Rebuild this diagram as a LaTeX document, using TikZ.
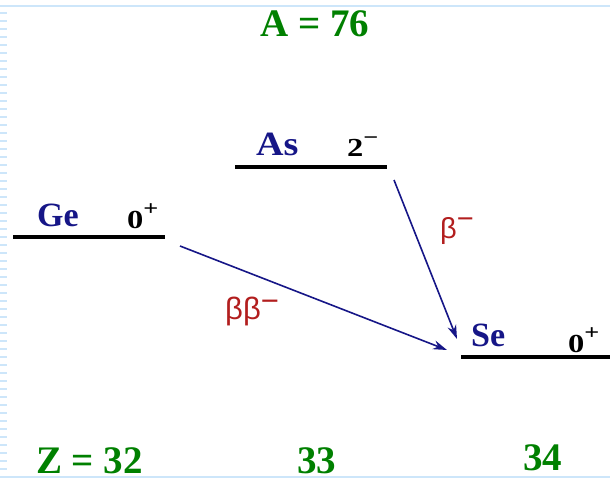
\documentclass[tikz,border=0pt]{standalone}
\usepackage{fontspec}
\setmainfont{Liberation Serif}
\newfontfamily\sansb{Liberation Sans}
\usetikzlibrary{arrows.meta}
\definecolor{navy}{RGB}{22,22,135}
\definecolor{grn}{RGB}{0,128,0}
\definecolor{rd}{RGB}{178,30,30}
\definecolor{framec}{RGB}{205,230,250}
\newcommand\hx[2]{\scalebox{#1}[1]{#2}}
\tikzset{
  lvl/.style={line width=4pt},
  elem/.style={inner sep=0pt, anchor=base west, text=navy, font=\bfseries\fontsize{34}{34}\selectfont},
  spin/.style={inner sep=0pt, anchor=base west, font=\bfseries\fontsize{26}{26}\selectfont},
  decay/.style={draw=navy, line width=1.6pt, -{Stealth[length=14pt,width=9pt]}},
  blab/.style={inner sep=0pt, anchor=base west, text=rd, font=\sansb\fontsize{31}{31}\selectfont},
  nlab/.style={inner sep=0pt, text=grn, font=\bfseries\fontsize{39}{39}\selectfont},
}
\newcommand\spinsup[1]{\raisebox{12.5pt}{\fontsize{21}{21}\selectfont #1}}
\begin{document}
\begin{tikzpicture}[x=1pt,y=-1pt]
\useasboundingbox (0,0) rectangle (610,481);
% frame
\draw[framec, line width=1.5pt] (0,6) -- (610,6);
\draw[framec, line width=1.5pt] (0,477) -- (610,477);
\draw[framec, line width=7pt, dash pattern=on 2pt off 6pt] (3.5,12) -- (3.5,476);
% titles
\node[nlab, anchor=base] (A) at (315,37) {A = 76};
\node[nlab, anchor=base west] (Z32) at (36,473) {Z = 32};
\node[nlab, anchor=base west] (Z33) at (297,473) {33};
\node[nlab, anchor=base west] (Z34) at (523,470) {34};
% levels
\coordinate (geL) at (13,237); \coordinate (geR) at (165,237);
\coordinate (asL) at (235,167); \coordinate (asR) at (387,167);
\coordinate (seL) at (461,357); \coordinate (seR) at (610,357);
\draw[lvl] (geL) -- (geR);
\draw[lvl] (asL) -- (asR);
\draw[lvl] (seL) -- (seR);
% labels
\node[elem] (ge) at (37,226) {Ge};
\node[elem] (as) at (256,156) {\hx{1.12}{As}};
\node[elem] (se) at (471,346) {Se};
\node[spin] (ges) at (127,228) {\hx{1.25}{0\spinsup{+}}};
\node[spin] (ass) at (347,157) {\hx{1.25}{2\spinsup{−}}};
\node[spin] (ses) at (568,352) {\hx{1.25}{0\spinsup{+}}};
% decays
\coordinate (bbS) at (180,246); \coordinate (bbE) at (447,350);
\coordinate (bS) at (394,180); \coordinate (bE) at (457,339);
\draw[decay] (bbS) -- (bbE);
\draw[decay] (bS) -- (bE);
\node[blab] (bbl) at (225,319) {ββ\raisebox{8pt}{−}};
\node[blab, font=\sansb\fontsize{29}{29}\selectfont] (bl) at (440,238) {β\raisebox{10pt}{−}};
\end{tikzpicture}
\end{document}
